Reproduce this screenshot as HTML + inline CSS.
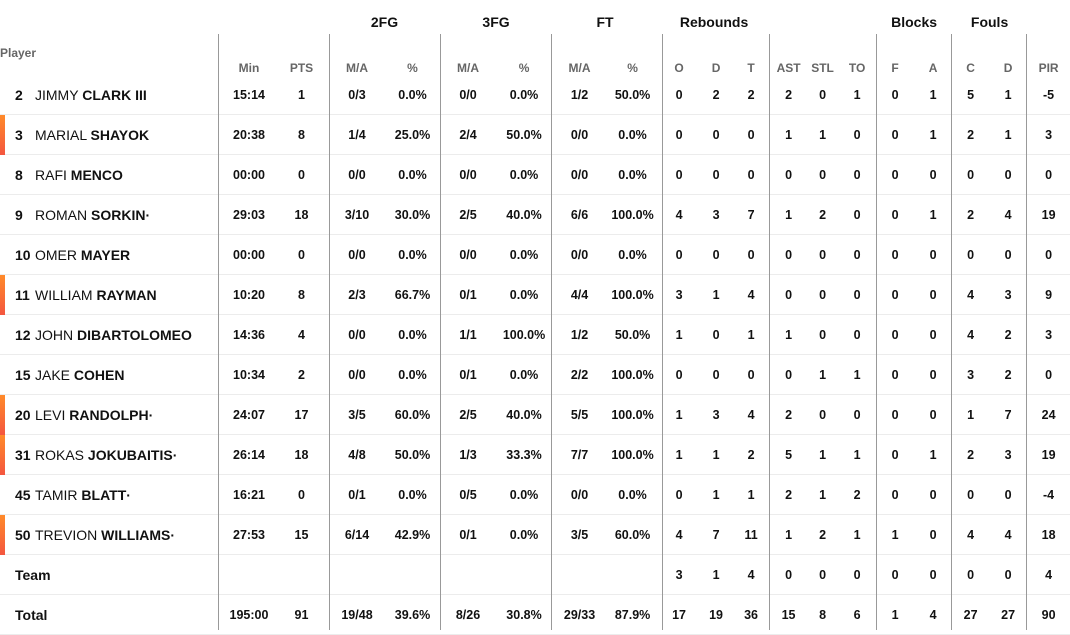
<!DOCTYPE html>
<html><head><meta charset="utf-8"><style>
body{margin:0;width:1070px;height:630px;overflow:hidden;background:#fff;font-family:"Liberation Sans",sans-serif;position:relative}
table{border-collapse:collapse;table-layout:fixed;width:1070px;position:absolute;left:0;top:1px}
td{padding:0;text-align:center;font-size:12.5px;font-weight:bold;color:#111;white-space:nowrap}
tr.d td{height:39px;border-bottom:1px solid #ececec}
tr.g td{height:42px;font-size:14px;vertical-align:middle;padding-bottom:0}
tr.s td{height:32px;color:#666;font-size:12px;vertical-align:bottom;padding-bottom:0}
td.p{text-align:left;font-size:14px;font-weight:normal;position:relative}
td.p b{font-weight:bold}
.n{display:inline-block;width:20px;margin-left:15px;font-weight:bold}
.bar{position:absolute;left:0;top:0;width:5px;height:40px;background:linear-gradient(#ff8a2a,#f4563f)}
.v{position:absolute;top:34px;width:1px;height:596px;background:#999}
.ph{position:absolute;left:0;top:46px;font-size:12px;font-weight:bold;color:#666}
</style></head><body>
<table>
<colgroup><col style="width:224px"><col style="width:50px"><col style="width:55px"><col style="width:56px"><col style="width:55px"><col style="width:56px"><col style="width:56px"><col style="width:55px"><col style="width:51px"><col style="width:42px"><col style="width:32px"><col style="width:38px"><col style="width:37px"><col style="width:31px"><col style="width:38px"><col style="width:38px"><col style="width:38px"><col style="width:37px"><col style="width:38px"><col style="width:43px"></colgroup>
<tr class="g"><td></td><td></td><td></td><td colspan="2">2FG</td><td colspan="2">3FG</td><td colspan="2">FT</td><td colspan="3">Rebounds</td><td></td><td></td><td></td><td colspan="2">Blocks</td><td colspan="2">Fouls</td><td></td></tr>
<tr class="s"><td></td><td>Min</td><td>PTS</td><td>M/A</td><td>%</td><td>M/A</td><td>%</td><td>M/A</td><td>%</td><td>O</td><td>D</td><td>T</td><td>AST</td><td>STL</td><td>TO</td><td>F</td><td>A</td><td>C</td><td>D</td><td>PIR</td></tr>
<tr class="d"><td class="p"><span class="n">2</span>JIMMY <b>CLARK III</b></td><td>15:14</td><td>1</td><td>0/3</td><td>0.0%</td><td>0/0</td><td>0.0%</td><td>1/2</td><td>50.0%</td><td>0</td><td>2</td><td>2</td><td>2</td><td>0</td><td>1</td><td>0</td><td>1</td><td>5</td><td>1</td><td>-5</td></tr>
<tr class="d"><td class="p"><div class="bar"></div><span class="n">3</span>MARIAL <b>SHAYOK</b></td><td>20:38</td><td>8</td><td>1/4</td><td>25.0%</td><td>2/4</td><td>50.0%</td><td>0/0</td><td>0.0%</td><td>0</td><td>0</td><td>0</td><td>1</td><td>1</td><td>0</td><td>0</td><td>1</td><td>2</td><td>1</td><td>3</td></tr>
<tr class="d"><td class="p"><span class="n">8</span>RAFI <b>MENCO</b></td><td>00:00</td><td>0</td><td>0/0</td><td>0.0%</td><td>0/0</td><td>0.0%</td><td>0/0</td><td>0.0%</td><td>0</td><td>0</td><td>0</td><td>0</td><td>0</td><td>0</td><td>0</td><td>0</td><td>0</td><td>0</td><td>0</td></tr>
<tr class="d"><td class="p"><span class="n">9</span>ROMAN <b>SORKIN·</b></td><td>29:03</td><td>18</td><td>3/10</td><td>30.0%</td><td>2/5</td><td>40.0%</td><td>6/6</td><td>100.0%</td><td>4</td><td>3</td><td>7</td><td>1</td><td>2</td><td>0</td><td>0</td><td>1</td><td>2</td><td>4</td><td>19</td></tr>
<tr class="d"><td class="p"><span class="n">10</span>OMER <b>MAYER</b></td><td>00:00</td><td>0</td><td>0/0</td><td>0.0%</td><td>0/0</td><td>0.0%</td><td>0/0</td><td>0.0%</td><td>0</td><td>0</td><td>0</td><td>0</td><td>0</td><td>0</td><td>0</td><td>0</td><td>0</td><td>0</td><td>0</td></tr>
<tr class="d"><td class="p"><div class="bar"></div><span class="n">11</span>WILLIAM <b>RAYMAN</b></td><td>10:20</td><td>8</td><td>2/3</td><td>66.7%</td><td>0/1</td><td>0.0%</td><td>4/4</td><td>100.0%</td><td>3</td><td>1</td><td>4</td><td>0</td><td>0</td><td>0</td><td>0</td><td>0</td><td>4</td><td>3</td><td>9</td></tr>
<tr class="d"><td class="p"><span class="n">12</span>JOHN <b>DIBARTOLOMEO</b></td><td>14:36</td><td>4</td><td>0/0</td><td>0.0%</td><td>1/1</td><td>100.0%</td><td>1/2</td><td>50.0%</td><td>1</td><td>0</td><td>1</td><td>1</td><td>0</td><td>0</td><td>0</td><td>0</td><td>4</td><td>2</td><td>3</td></tr>
<tr class="d"><td class="p"><span class="n">15</span>JAKE <b>COHEN</b></td><td>10:34</td><td>2</td><td>0/0</td><td>0.0%</td><td>0/1</td><td>0.0%</td><td>2/2</td><td>100.0%</td><td>0</td><td>0</td><td>0</td><td>0</td><td>1</td><td>1</td><td>0</td><td>0</td><td>3</td><td>2</td><td>0</td></tr>
<tr class="d"><td class="p"><div class="bar"></div><span class="n">20</span>LEVI <b>RANDOLPH·</b></td><td>24:07</td><td>17</td><td>3/5</td><td>60.0%</td><td>2/5</td><td>40.0%</td><td>5/5</td><td>100.0%</td><td>1</td><td>3</td><td>4</td><td>2</td><td>0</td><td>0</td><td>0</td><td>0</td><td>1</td><td>7</td><td>24</td></tr>
<tr class="d"><td class="p"><div class="bar"></div><span class="n">31</span>ROKAS <b>JOKUBAITIS·</b></td><td>26:14</td><td>18</td><td>4/8</td><td>50.0%</td><td>1/3</td><td>33.3%</td><td>7/7</td><td>100.0%</td><td>1</td><td>1</td><td>2</td><td>5</td><td>1</td><td>1</td><td>0</td><td>1</td><td>2</td><td>3</td><td>19</td></tr>
<tr class="d"><td class="p"><span class="n">45</span>TAMIR <b>BLATT·</b></td><td>16:21</td><td>0</td><td>0/1</td><td>0.0%</td><td>0/5</td><td>0.0%</td><td>0/0</td><td>0.0%</td><td>0</td><td>1</td><td>1</td><td>2</td><td>1</td><td>2</td><td>0</td><td>0</td><td>0</td><td>0</td><td>-4</td></tr>
<tr class="d"><td class="p"><div class="bar"></div><span class="n">50</span>TREVION <b>WILLIAMS·</b></td><td>27:53</td><td>15</td><td>6/14</td><td>42.9%</td><td>0/1</td><td>0.0%</td><td>3/5</td><td>60.0%</td><td>4</td><td>7</td><td>11</td><td>1</td><td>2</td><td>1</td><td>1</td><td>0</td><td>4</td><td>4</td><td>18</td></tr>
<tr class="d"><td class="p"><b style="margin-left:15px">Team</b></td><td></td><td></td><td></td><td></td><td></td><td></td><td></td><td></td><td>3</td><td>1</td><td>4</td><td>0</td><td>0</td><td>0</td><td>0</td><td>0</td><td>0</td><td>0</td><td>4</td></tr>
<tr class="d"><td class="p"><b style="margin-left:15px">Total</b></td><td>195:00</td><td>91</td><td>19/48</td><td>39.6%</td><td>8/26</td><td>30.8%</td><td>29/33</td><td>87.9%</td><td>17</td><td>19</td><td>36</td><td>15</td><td>8</td><td>6</td><td>1</td><td>4</td><td>27</td><td>27</td><td>90</td></tr>
</table>
<div class="ph">Player</div>
<div class="v" style="left:218px"></div><div class="v" style="left:329px"></div><div class="v" style="left:440px"></div><div class="v" style="left:551px"></div><div class="v" style="left:662px"></div><div class="v" style="left:769px"></div><div class="v" style="left:876px"></div><div class="v" style="left:951px"></div><div class="v" style="left:1026px"></div>
</body></html>
